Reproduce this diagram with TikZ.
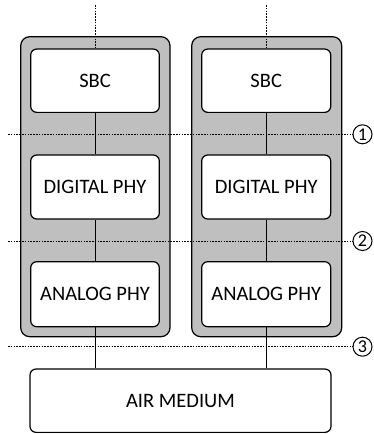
\documentclass[tikz,border=0pt]{standalone}
\usepackage{fontspec}
\setmainfont{Carlito}
\begin{document}
\begin{tikzpicture}[x=1pt,y=-1pt,
  stack/.style={draw=black,line width=1.2pt,fill=black!25,rounded corners=9pt},
  block/.style={draw=black,line width=1.2pt,fill=white,rounded corners=6pt,
    inner sep=0pt,font=\fontsize{20.5}{24}\selectfont},
  link/.style={line width=1pt},
  boundary/.style={line width=1pt,dash pattern=on 1.6pt off 1.2pt},
  marker/.style={draw=black,line width=1pt,circle,inner sep=0pt,
    minimum size=19pt,font=\fontsize{18}{20}\selectfont}]
\useasboundingbox (0,0) rectangle (373,434);

% two grey stacks
\draw[stack] (20.7,36.7) rectangle (170,336.7);
\draw[stack] (191.7,36.7) rectangle (341.7,336.7);

% left stack blocks
\node[block,minimum width=128.6pt,minimum height=63.3pt] (sbcL) at (95,80.7) {SBC};
\node[block,minimum width=128.6pt,minimum height=64pt] (digL) at (95,187) {DIGITAL PHY};
\node[block,minimum width=128.6pt,minimum height=65pt] (anaL) at (95,294.2) {ANALOG PHY};

% right stack blocks
\node[block,minimum width=129pt,minimum height=63.3pt] (sbcR) at (266.2,80.7) {SBC};
\node[block,minimum width=129pt,minimum height=64pt] (digR) at (266.2,187) {DIGITAL PHY};
\node[block,minimum width=129pt,minimum height=65pt] (anaR) at (266.2,294.2) {ANALOG PHY};

% shared medium
\node[block,minimum width=301pt,minimum height=63.3pt] (air) at (180.5,400.7) {AIR MEDIUM};

% links inside each stack
\draw[link] (sbcL) -- (digL);
\draw[link] (digL) -- (anaL);
\draw[link] (anaL.south) -- (anaL.south |- air.north);
\draw[link] (sbcR) -- (digR);
\draw[link] (digR) -- (anaR);
\draw[link] (anaR.south) -- (anaR.south |- air.north);

% upper links leaving the picture
\coordinate (topL) at (95,5);
\coordinate (topR) at (266.2,5);
\draw[boundary] (topL) -- (sbcL.north);
\draw[boundary] (topR) -- (sbcR.north);

% interface boundaries
\node[marker] (m1) at (362.5,134.3) {1};
\node[marker] (m2) at (362.5,241) {2};
\node[marker] (m3) at (362.5,346.7) {3};
\coordinate (s1) at (8,134.3);
\coordinate (s2) at (8,241);
\coordinate (s3) at (8,346.7);
\draw[boundary] (s1) -- (m1.west);
\draw[boundary] (s2) -- (m2.west);
\draw[boundary] (s3) -- (m3.west);
\end{tikzpicture}
\end{document}
